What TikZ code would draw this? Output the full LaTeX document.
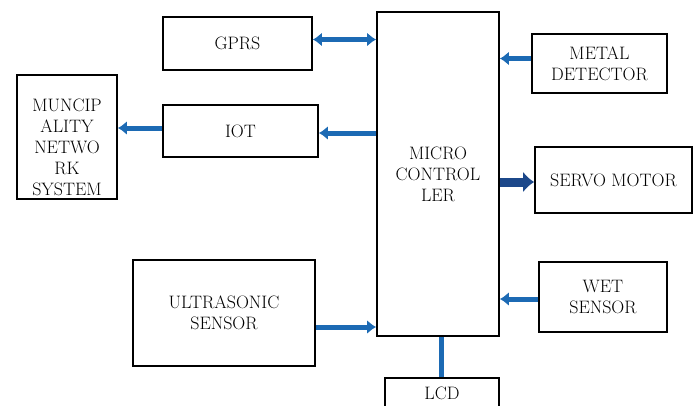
\documentclass[tikz,border=0pt]{standalone}
\usepackage{tikz}
\usetikzlibrary{arrows.meta,positioning,calc}
\definecolor{arrblue}{RGB}{28,106,180}
\definecolor{arrnavy}{RGB}{28,72,138}

\begin{document}
\begin{tikzpicture}[x=1pt, y=-1pt, font=\fontsize{18}{21}\selectfont,
      box/.style={draw, line width=1.7pt, align=center, inner sep=2pt, text=black},
      arr/.style={arrblue, line width=5pt, -{Latex[length=9pt, width=14pt]}},
      biarr/.style={arr, {Latex[length=9pt, width=14pt]}-{Latex[length=9pt, width=14pt]}},
      bigarr/.style={arrnavy, line width=9pt, -{Latex[length=11pt, width=21pt]}}]
      \useasboundingbox (0,0) rectangle (694,405);
      \node[box, minimum width=122pt, minimum height=324pt] (mcu)   at (438,174)   {MICRO\\CONTROL\\LER};
      \node[box, minimum width=149pt, minimum height=53pt]  (gprs)  at (237.5,43.5) {GPRS};
      \node[box, minimum width=155pt, minimum height=52pt]  (iot)   at (240.5,131) {IOT};
      \node[box, minimum width=100pt, minimum height=124pt] (mun)   at (67,137)    {\rule{0pt}{34pt}MUNCIP\\ALITY\\NETWO\\RK\\SYSTEM};
      \node[box, minimum width=182pt, minimum height=106pt] (ultra) at (224,313)   {ULTRASONIC\\SENSOR};
      \node[box, minimum width=135pt, minimum height=59pt]  (metal) at (599.5,63.5) {METAL\\DETECTOR};
      \node[box, minimum width=157pt, minimum height=66pt]  (servo) at (613.5,180) {SERVO MOTOR};
      \node[box, minimum width=128pt, minimum height=70pt]  (wet)   at (603,297)   {WET\\SENSOR};
      \node[box, minimum width=114pt, minimum height=30pt]  (lcd)   at (442,393)   {LCD};
      \draw[biarr] ([yshift=4pt]gprs.east) -- ([yshift=4pt]gprs.east -| mcu.west);
      \draw[arr] ([yshift=-2pt]iot.east -| mcu.west) -- ([yshift=-2pt]iot.east);
      \draw[arr] ([yshift=3pt]iot.west) -- ([yshift=3pt]iot.west -| mun.east);
      \draw[arr] ([yshift=-14pt]ultra.east) -- ([yshift=-14pt]ultra.east -| mcu.west);
      \draw[arr] ([yshift=5pt]metal.west) -- ([yshift=5pt]metal.west -| mcu.east);
      \draw[bigarr] ([yshift=-2pt]servo.west -| mcu.east) -- ([yshift=-2pt]servo.west);
      \draw[arr] ([yshift=-2pt]wet.west) -- ([yshift=-2pt]wet.west -| mcu.east);
      \draw[arrblue, line width=5pt] ([xshift=-1pt]lcd.north |- mcu.south) -- ([xshift=-1pt]lcd.north);
    \end{tikzpicture}
\end{document}
